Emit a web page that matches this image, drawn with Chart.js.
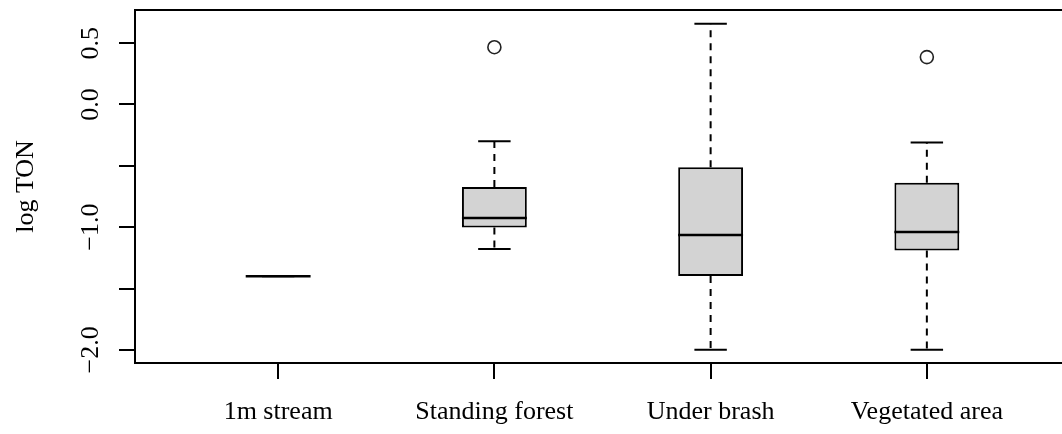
<!DOCTYPE html>
<html>
<head>
<meta charset="utf-8">
<script src="https://cdn.jsdelivr.net/npm/chart.js@4.4.1/dist/chart.umd.min.js"></script>
<style>
  html, body { margin: 0; padding: 0; background: #fff; overflow: hidden; }
  #wrap { width: 1080px; height: 434px; }
</style>
</head>
<body>
<div id="wrap"><canvas id="boxChart" width="1080" height="434"></canvas></div>
<script>
// Box plot values (log TON)
const categories = ['1m stream', 'Standing forest', 'Under brash', 'Vegetated area'];
const whiskerLow = [-1.40, -1.178, -2.00, -2.00];
const quartile1 = [-1.40, -1.003, -1.397, -1.191];
const medians = [-1.40, -0.925, -1.064, -1.039];
const quartile3 = [-1.40, -0.673, -0.512, -0.637];
const whiskerHigh = [-1.40, -0.300, 0.658, -0.309];
const outliers = [[], [0.467], [], [0.386]];

const yTicks = [-2.0, -1.5, -1.0, -0.5, 0.0, 0.5];
const yTickLabels = ['\u22122.0', '', '\u22121.0', '', '0.0', '0.5'];
const yTitle = 'log TON';

const FONT = '"Liberation Serif", "DejaVu Serif", serif';

// Box positions like R: 1..n
const boxData = categories.map((c, i) => ({ x: i + 1, y: [quartile1[i], quartile3[i]] }));
const outlierData = [];
outliers.forEach((list, i) => list.forEach(v => outlierData.push({ x: i + 1, y: v })));

// whiskers, caps, medians, frame and rotated y labels
const boxExtras = {
    id: 'boxExtras',
    beforeDatasetsDraw(chart) {
        const ctx = chart.ctx;
        const xs = chart.scales.x, ys = chart.scales.y;
        const bars = chart.getDatasetMeta(0).data;
        ctx.save();
        ctx.strokeStyle = '#000';
        ctx.lineWidth = 2;
        categories.forEach((c, i) => {
            const x = xs.getPixelForValue(i + 1);
            const half = bars[i].width / 2;
            // dashed whiskers
            ctx.setLineDash([7, 6]);
            ctx.beginPath();
            ctx.moveTo(x, ys.getPixelForValue(quartile3[i]));
            ctx.lineTo(x, ys.getPixelForValue(whiskerHigh[i]));
            ctx.moveTo(x, ys.getPixelForValue(quartile1[i]));
            ctx.lineTo(x, ys.getPixelForValue(whiskerLow[i]));
            ctx.stroke();
            // caps
            ctx.setLineDash([]);
            ctx.beginPath();
            ctx.moveTo(x - half / 2, ys.getPixelForValue(whiskerHigh[i]));
            ctx.lineTo(x + half / 2, ys.getPixelForValue(whiskerHigh[i]));
            ctx.moveTo(x - half / 2, ys.getPixelForValue(whiskerLow[i]));
            ctx.lineTo(x + half / 2, ys.getPixelForValue(whiskerLow[i]));
            ctx.stroke();
        });
        ctx.restore();
    },
    afterDatasetsDraw(chart) {
        const ctx = chart.ctx;
        const xs = chart.scales.x, ys = chart.scales.y;
        const bars = chart.getDatasetMeta(0).data;
        const area = chart.chartArea;
        ctx.save();
        ctx.strokeStyle = '#000';
        // medians
        ctx.lineWidth = 2.6;
        categories.forEach((c, i) => {
            const x = xs.getPixelForValue(i + 1);
            const half = bars[i].width / 2;
            const y = ys.getPixelForValue(medians[i]);
            ctx.beginPath();
            ctx.moveTo(x - half, y);
            ctx.lineTo(x + half, y);
            ctx.stroke();
        });
        // plot frame
        ctx.lineWidth = 2;
        ctx.strokeRect(area.left, area.top, area.right - area.left, area.bottom - area.top);
        // rotated y tick labels and title
        ctx.fillStyle = '#000';
        ctx.textAlign = 'center';
        ctx.textBaseline = 'alphabetic';
        ctx.font = '26px ' + FONT;
        yTicks.forEach((v, i) => {
            if (!yTickLabels[i]) return;
            ctx.save();
            ctx.translate(98, ys.getPixelForValue(v));
            ctx.rotate(-Math.PI / 2);
            ctx.fillText(yTickLabels[i], 0, 0);
            ctx.restore();
        });
        ctx.save();
        ctx.translate(33, (area.top + area.bottom) / 2);
        ctx.rotate(-Math.PI / 2);
        ctx.fillText(yTitle, 0, 0);
        ctx.restore();
        ctx.restore();
    }
};

new Chart(document.getElementById('boxChart'), {
    type: 'bar',
    data: {
        datasets: [
            {
                label: 'box',
                data: boxData,
                backgroundColor: '#d3d3d3',
                borderColor: '#000',
                borderWidth: 2,
                borderSkipped: false,
                barPercentage: 0.3,
                categoryPercentage: 1.0
            },
            {
                type: 'scatter',
                label: 'outliers',
                data: outlierData,
                pointStyle: 'circle',
                pointRadius: 6.5,
                pointBorderWidth: 1.6,
                pointBorderColor: '#222',
                pointBackgroundColor: 'rgba(0,0,0,0)'
            }
        ]
    },
    options: {
        responsive: false,
        animation: false,
        devicePixelRatio: 1,
        layout: { padding: { top: 10, right: 10, left: 0, bottom: 0 } },
        plugins: {
            legend: { display: false },
            tooltip: { enabled: false }
        },
        scales: {
            x: {
                type: 'linear',
                offset: false,
                min: 0.338,
                max: 4.662,
                afterBuildTicks: (scale) => {
                    scale.ticks = categories.map((c, i) => ({ value: i + 1 }));
                },
                afterFit: (scale) => { scale.height = 71; },
                grid: {
                    offset: false,
                    drawOnChartArea: false,
                    drawTicks: true,
                    tickLength: 16,
                    color: '#000',
                    lineWidth: 2
                },
                border: { display: false },
                ticks: {
                    autoSkip: false,
                    maxRotation: 0,
                    padding: 18,
                    color: '#000',
                    font: { family: FONT, size: 26 },
                    callback: (v) => categories[Math.round(v) - 1] || ''
                }
            },
            y: {
                min: -2.107,
                max: 0.77,
                afterBuildTicks: (scale) => {
                    scale.ticks = yTicks.map(v => ({ value: v }));
                },
                afterFit: (scale) => { scale.width = 135; },
                grid: {
                    drawOnChartArea: false,
                    drawTicks: true,
                    tickLength: 16,
                    color: '#000',
                    lineWidth: 2
                },
                border: { display: false },
                ticks: { display: false }
            }
        }
    },
    plugins: [boxExtras]
});
</script>
</body>
</html>
